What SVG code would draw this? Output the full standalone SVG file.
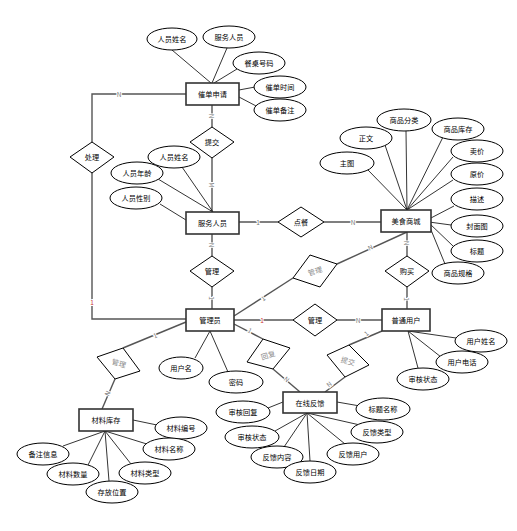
<svg xmlns="http://www.w3.org/2000/svg" width="517" height="531" viewBox="0 0 517 531">
<style>
text{font-family:"Noto Sans CJK SC","Liberation Sans",sans-serif;font-size:7.2px;text-anchor:middle;dominant-baseline:central;fill:#000}
.ent rect{fill:#fff;stroke:#333;stroke-width:1.6}
.att ellipse{fill:#fff;stroke:#000;stroke-width:1}
.rel polygon{fill:#fff;stroke:#000;stroke-width:1}
.rel.gray text{fill:#888}
.conn line,.conn polyline{stroke:#555;stroke-width:1.4;fill:none}
.alines line{stroke:#000;stroke-width:0.8}
.card{font-size:6.5px;fill:#777;stroke:#fff;stroke-width:2;paint-order:stroke}
.red{fill:#c33}
</style>
<rect width="517" height="531" fill="#fff"/>
<g id="connectors" class="conn">
<polyline points="186,94 92,94 92,142"/>
<polyline points="92,173 92,319 186,319"/>
<line x1="212" y1="105" x2="212" y2="127"/>
<line x1="212" y1="158" x2="212" y2="212"/>
<line x1="239" y1="222" x2="278" y2="222"/>
<line x1="324" y1="222" x2="381" y2="222"/>
<line x1="212" y1="234" x2="212" y2="256"/>
<line x1="212" y1="287" x2="212" y2="309"/>
<line x1="407" y1="232" x2="407" y2="256"/>
<line x1="407" y1="287" x2="407" y2="309"/>
<line x1="234" y1="320" x2="293" y2="320"/>
<line x1="337" y1="320" x2="382" y2="320"/>
<line x1="234" y1="316" x2="293" y2="278"/>
<line x1="337" y1="264" x2="407" y2="232"/>
<line x1="234" y1="324" x2="263" y2="339"/>
<line x1="273" y1="369" x2="300" y2="392"/>
<line x1="382" y1="331" x2="349" y2="345"/>
<line x1="345" y1="377" x2="325" y2="392"/>
<line x1="186" y1="322" x2="123" y2="348"/>
<line x1="115" y1="379" x2="102" y2="409"/>
</g>
<g id="attr-lines" class="alines">
<line x1="172" y1="50" x2="211" y2="83"/>
<line x1="227" y1="48" x2="212" y2="83"/>
<line x1="237" y1="69" x2="214" y2="83"/>
<line x1="239" y1="90" x2="255" y2="87"/>
<line x1="239" y1="97" x2="258" y2="107"/>
<line x1="182" y1="167" x2="213" y2="212"/>
<line x1="158" y1="179" x2="213" y2="212"/>
<line x1="160" y1="204" x2="186" y2="220"/>
<line x1="368" y1="170" x2="407" y2="210"/>
<line x1="385" y1="145" x2="407" y2="210"/>
<line x1="406" y1="131" x2="407" y2="210"/>
<line x1="443" y1="137" x2="407" y2="210"/>
<line x1="453" y1="157" x2="407" y2="210"/>
<line x1="453" y1="180" x2="407" y2="210"/>
<line x1="429" y1="219" x2="454" y2="206"/>
<line x1="429" y1="222" x2="451" y2="225"/>
<line x1="429" y1="223" x2="453" y2="246"/>
<line x1="429" y1="225" x2="445" y2="264"/>
<line x1="408" y1="331" x2="456" y2="338"/>
<line x1="408" y1="331" x2="441" y2="357"/>
<line x1="408" y1="331" x2="418" y2="368"/>
<line x1="210" y1="331" x2="195" y2="358"/>
<line x1="210" y1="331" x2="228" y2="372"/>
<line x1="283" y1="402" x2="268" y2="408"/>
<line x1="337" y1="402" x2="360" y2="406"/>
<line x1="307" y1="413" x2="275" y2="431"/>
<line x1="307" y1="413" x2="284" y2="447"/>
<line x1="307" y1="413" x2="310" y2="461"/>
<line x1="307" y1="413" x2="345" y2="444"/>
<line x1="307" y1="413" x2="360" y2="425"/>
<line x1="133" y1="420" x2="157" y2="425"/>
<line x1="105" y1="431" x2="150" y2="445"/>
<line x1="105" y1="431" x2="131" y2="464"/>
<line x1="105" y1="431" x2="109" y2="481"/>
<line x1="105" y1="431" x2="88" y2="465"/>
<line x1="105" y1="431" x2="63" y2="446"/>
</g>
<g id="cards">
<text class="card" x="119" y="94">N</text>
<text class="card" x="212" y="116" transform="rotate(90 212 116)">N</text>
<text class="card" x="212" y="185" transform="rotate(90 212 185)">M</text>
<text class="card" x="258" y="222">1</text>
<text class="card" x="353" y="222">N</text>
<text class="card" x="212" y="245" transform="rotate(90 212 245)">N</text>
<text class="card" x="212" y="298" transform="rotate(90 212 298)">1</text>
<text class="card" x="407" y="243" transform="rotate(90 407 243)">N</text>
<text class="card" x="407" y="299" transform="rotate(90 407 299)">1</text>
<text class="card red" x="92" y="302">1</text>
<text class="card red" x="262" y="320">1</text>
<text class="card" x="358" y="320">N</text>
<text class="card" x="263" y="298" transform="rotate(-33 263 298)">1</text>
<text class="card" x="370" y="247" transform="rotate(-25 370 247)">N</text>
<text class="card" x="250" y="330" transform="rotate(30 250 330)">1</text>
<text class="card" x="287" y="379" transform="rotate(40 287 379)">N</text>
<text class="card" x="366" y="333" transform="rotate(-40 366 333)">1</text>
<text class="card" x="329" y="384" transform="rotate(-40 329 384)">N</text>
<text class="card" x="155" y="335" transform="rotate(-24 155 335)">1</text>
<text class="card" x="107" y="393" transform="rotate(-65 107 393)">N</text>
</g>
<g id="e-cuidan" class="ent"><rect x="186" y="83" width="53" height="22"/><text x="212.5" y="94">催单申请</text></g>
<g id="e-fuwu" class="ent"><rect x="186" y="212" width="53" height="22"/><text x="212.5" y="223">服务人员</text></g>
<g id="e-shangcheng" class="ent"><rect x="381" y="210" width="50" height="22"/><text x="406" y="221">美食商城</text></g>
<g id="e-admin" class="ent"><rect x="186" y="309" width="48" height="22"/><text x="210" y="320">管理员</text></g>
<g id="e-user" class="ent"><rect x="382" y="309" width="48" height="22"/><text x="406" y="320">普通用户</text></g>
<g id="e-fankui" class="ent"><rect x="283" y="392" width="54" height="21"/><text x="310" y="402.5">在线反馈</text></g>
<g id="e-cailiao" class="ent"><rect x="79" y="409" width="54" height="22"/><text x="106" y="420">材料库存</text></g>
<g id="r-chuli" class="rel"><polygon points="70,157 92,142 114,157 92,173"/><text x="92" y="157">处理</text></g>
<g id="r-tijiao1" class="rel"><polygon points="190,142 212,127 234,142 212,158"/><text x="212" y="142">提交</text></g>
<g id="r-diancan" class="rel"><polygon points="278,222 301,207 324,222 301,237"/><text x="301" y="222">点餐</text></g>
<g id="r-guanli1" class="rel"><polygon points="190,271 212,256 234,271 212,287"/><text x="212" y="271">管理</text></g>
<g id="r-goumai" class="rel"><polygon points="385,271 407,256 429,271 407,287"/><text x="407" y="271">购买</text></g>
<g id="r-guanli2" class="rel"><polygon points="293,320 315,304 337,320 315,336"/><text x="315" y="320">管理</text></g>
<g id="r-guanli3" class="rel gray"><polygon points="293,278 310,255 337,264 320,287"/><text x="315" y="271" transform="rotate(-18 315 271)">管理</text></g>
<g id="r-huifu" class="rel gray"><polygon points="247,362 263,339 290,348 273,369"/><text x="268" y="355" transform="rotate(-18 268 355)">回复</text></g>
<g id="r-tijiao2" class="rel gray"><polygon points="327,355 349,345 369,365 345,377"/><text x="348" y="361" transform="rotate(15 348 361)">提交</text></g>
<g id="r-guanli4" class="rel gray"><polygon points="97,357 123,348 140,371 115,379"/><text x="119" y="363" transform="rotate(15 119 363)">管理</text></g>
<g id="a-cuidan" class="att">
<ellipse cx="172" cy="39" rx="25" ry="11"/><text x="172" y="39">人员姓名</text>
<ellipse cx="229" cy="37" rx="26" ry="11"/><text x="229" y="37">服务人员</text>
<ellipse cx="259" cy="63" rx="26" ry="11"/><text x="259" y="63">餐桌号码</text>
<ellipse cx="280" cy="87" rx="26" ry="11"/><text x="280" y="87">催单时间</text>
<ellipse cx="280" cy="110" rx="26" ry="11"/><text x="280" y="110">催单备注</text>
</g>
<g id="a-fuwu" class="att">
<ellipse cx="174" cy="157" rx="26" ry="11"/><text x="174" y="157">人员姓名</text>
<ellipse cx="137" cy="173" rx="26" ry="11"/><text x="137" y="173">人员年龄</text>
<ellipse cx="136" cy="198" rx="26" ry="11"/><text x="136" y="198">人员性别</text>
</g>
<g id="a-shangcheng" class="att">
<ellipse cx="347" cy="163" rx="27" ry="11"/><text x="347" y="163">主图</text>
<ellipse cx="366" cy="138" rx="26" ry="11"/><text x="366" y="138">正文</text>
<ellipse cx="404" cy="120" rx="27" ry="11"/><text x="404" y="120">商品分类</text>
<ellipse cx="458" cy="129" rx="26" ry="11"/><text x="458" y="129">商品库存</text>
<ellipse cx="477" cy="151" rx="26" ry="11"/><text x="477" y="151">卖价</text>
<ellipse cx="477" cy="174" rx="26" ry="11"/><text x="477" y="174">原价</text>
<ellipse cx="477" cy="199" rx="26" ry="11"/><text x="477" y="199">描述</text>
<ellipse cx="477" cy="226" rx="26" ry="11"/><text x="477" y="226">封面图</text>
<ellipse cx="477" cy="251" rx="26" ry="11"/><text x="477" y="251">标题</text>
<ellipse cx="458" cy="273" rx="26" ry="11"/><text x="458" y="273">商品规格</text>
</g>
<g id="a-user" class="att">
<ellipse cx="481" cy="341" rx="26" ry="11"/><text x="481" y="341">用户姓名</text>
<ellipse cx="462" cy="362" rx="26" ry="11"/><text x="462" y="362">用户电话</text>
<ellipse cx="423" cy="379" rx="26" ry="11"/><text x="423" y="379">审核状态</text>
</g>
<g id="a-admin" class="att">
<ellipse cx="181" cy="368" rx="22" ry="11"/><text x="181" y="368">用户名</text>
<ellipse cx="236" cy="382" rx="27" ry="11"/><text x="236" y="382">密码</text>
</g>
<g id="a-fankui" class="att">
<ellipse cx="243" cy="412" rx="27" ry="11"/><text x="243" y="412">审核回复</text>
<ellipse cx="383" cy="409" rx="27" ry="11"/><text x="383" y="409">标题名称</text>
<ellipse cx="252" cy="437" rx="27" ry="11"/><text x="252" y="437">审核状态</text>
<ellipse cx="377" cy="432" rx="26" ry="11"/><text x="377" y="432">反馈类型</text>
<ellipse cx="277" cy="457" rx="26" ry="11"/><text x="277" y="457">反馈内容</text>
<ellipse cx="353" cy="454" rx="26" ry="11"/><text x="353" y="454">反馈用户</text>
<ellipse cx="310" cy="472" rx="26" ry="11"/><text x="310" y="472">反馈日期</text>
</g>
<g id="a-cailiao" class="att">
<ellipse cx="181" cy="428" rx="26" ry="11"/><text x="181" y="428">材料编号</text>
<ellipse cx="169" cy="449" rx="26" ry="11"/><text x="169" y="449">材料名称</text>
<ellipse cx="145" cy="473" rx="26" ry="11"/><text x="145" y="473">材料类型</text>
<ellipse cx="112" cy="492" rx="26" ry="11"/><text x="112" y="492">存放位置</text>
<ellipse cx="73" cy="474" rx="26" ry="11"/><text x="73" y="474">材料数量</text>
<ellipse cx="43" cy="454" rx="26" ry="11"/><text x="43" y="454">备注信息</text>
</g>
</svg>
